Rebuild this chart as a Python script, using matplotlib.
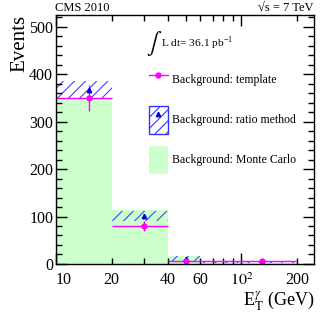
import numpy as np
import matplotlib
matplotlib.use("Agg")
import matplotlib.pyplot as plt
from matplotlib.patches import Patch
from matplotlib.lines import Line2D
from matplotlib.ticker import FixedLocator, FuncFormatter

plt.rcParams['font.family'] = ['Liberation Serif', 'DejaVu Serif']
plt.rcParams['mathtext.fontset'] = 'stix'
plt.rcParams['hatch.linewidth'] = 0.8

# bins in E_T (GeV)
edges = np.array([10, 20, 40, 60, 200])
centers = (edges[:-1] + edges[1:]) / 2.0

# background estimates
mc = np.array([349, 113, 17, 2])
ratio = np.array([366, 102, 11, 4])
ratio_err = np.array([19, 10.5, 5, 2])
template = np.array([350, 80, 6, 7])
template_err = np.array([27, 10, 3, 2])

fig = plt.figure(figsize=(3.31, 3.18), dpi=100)
ax = fig.add_axes([0.169, 0.170, 0.780, 0.783])

widths = np.diff(edges)
ax.bar(edges[:-1], mc, width=widths, align='edge', color='#ccffcc', lw=0)
ax.bar(edges[:-1], 2 * ratio_err, bottom=ratio - ratio_err, width=widths,
       align='edge', fill=False, hatch='///', edgecolor='#4444ff', lw=0)
ax.errorbar(centers, template, yerr=template_err,
            xerr=[centers - edges[:-1], edges[1:] - centers],
            fmt='o', color='#ff00ff', ms=3.5, elinewidth=1, capsize=0)
ax.plot(centers, ratio, '^', color='#0000cc', ms=3.2, ls='none')

ax.set_xscale('log')
ax.set_xlim(10, 247)
ax.set_ylim(0, 525)

ax.xaxis.set_major_locator(FixedLocator([10, 100]))
ax.xaxis.set_minor_locator(FixedLocator([20, 30, 40, 50, 60, 70, 80, 90, 200]))
ax.xaxis.set_major_formatter(FuncFormatter(lambda v, p: '10' if v == 10 else r'$10^2$'))
shown = {20: '20', 40: '40', 60: '60', 200: '200'}
ax.xaxis.set_minor_formatter(FuncFormatter(lambda v, p: shown.get(int(round(v)), '')))
ax.set_yticks([0, 100, 200, 300, 400, 500])
ax.yaxis.set_minor_locator(FixedLocator(np.arange(0, 525, 20)))

ax.tick_params(which='both', direction='in', top=True, right=True, labelsize=11.5)
ax.tick_params(which='major', length=8, width=1)
ax.tick_params(which='minor', length=4, width=1)
ax.tick_params(axis='x', which='both', pad=6)
ax.tick_params(axis='y', which='both', pad=2)
for s in ax.spines.values():
    s.set_linewidth(1)
# first x label sits a bit right of the axis edge
ax.get_xticklabels()[0].set_horizontalalignment('left')

ax.set_ylabel('Events', loc='top', fontsize=15, labelpad=0)
ax.set_xlabel(r'E$_{\mathrm{T}}^{\gamma}$ (GeV)', loc='right', fontsize=13, labelpad=0)

fig.text(0.166, 0.974, 'CMS 2010', fontsize=9, va='center', ha='left')
fig.text(0.947, 0.974, '\u221as = 7 TeV', fontsize=9, va='center', ha='right')

ax.text(0.35, 0.885, r'$\int$', transform=ax.transAxes,
        fontsize=16, va='center', ha='left')
ax.text(0.405, 0.885, r'L dt= 36.1 pb$^{\mathregular{-1}}$', transform=ax.transAxes,
        fontsize=8.2, va='center', ha='left')

h_tmp = Line2D([], [], color='#ff00ff', marker='o', ms=3.5, lw=1)
h_ratio = (Patch(facecolor='none', edgecolor='#3333ff', hatch='///', lw=1),
           Line2D([], [], color='#0000cc', marker='^', ms=3.2, ls='none'))
h_mc = Patch(facecolor='#ccffcc', lw=0)
ax.legend([h_tmp, h_ratio, h_mc],
          ['Background: template', 'Background: ratio method', 'Background: Monte Carlo'],
          loc='upper left', bbox_to_anchor=(0.36, 0.795), frameon=False,
          fontsize=8.5, handlelength=1.6, handleheight=3.27, labelspacing=1.0,
          handletextpad=0.35, borderpad=0, borderaxespad=0)

fig.savefig('out.png', dpi=100)
